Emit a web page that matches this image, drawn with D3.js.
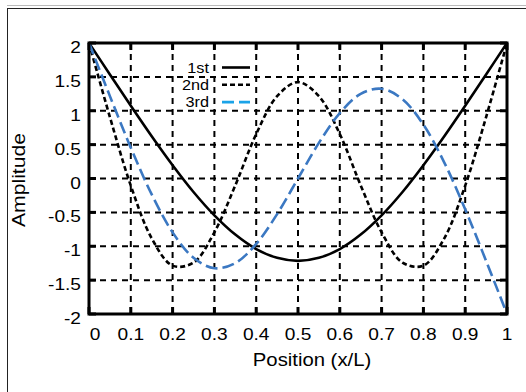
<!DOCTYPE html>
<html>
<head>
<meta charset="utf-8">
<script src="https://cdn.jsdelivr.net/npm/d3@7"></script>
<style>
  body { margin: 0; background: #fff; }
  svg { display: block; font-family: "Liberation Sans", Arial, sans-serif; }
</style>
</head>
<body>
<svg id="chart" width="526" height="392"></svg>
<script>
// positions along the beam
const positions = [0, 0.05, 0.1, 0.15, 0.2, 0.25, 0.3, 0.35, 0.4, 0.45, 0.5,
  0.55, 0.6, 0.65, 0.7, 0.75, 0.8, 0.85, 0.9, 0.95, 1];
const first = [2, 1.536, 1.074, 0.624, 0.196, -0.199, -0.544, -0.828, -1.041, -1.171, -1.216,
  -1.171, -1.041, -0.828, -0.544, -0.199, 0.196, 0.624, 1.074, 1.536, 2];
const second = [2, 0.907, -0.105, -0.883, -1.286, -1.242, -0.794, -0.101, 0.656, 1.215, 1.422,
  1.215, 0.656, -0.101, -0.794, -1.242, -1.286, -0.883, -0.105, 0.907, 2];
const third = [2, 1.216, 0.455, -0.235, -0.795, -1.170, -1.324, -1.249, -0.966, -0.526, 0,
  0.526, 0.966, 1.249, 1.324, 1.170, 0.795, 0.235, -0.455, -1.216, -2];
const xTicks = [0, 0.1, 0.2, 0.3, 0.4, 0.5, 0.6, 0.7, 0.8, 0.9, 1];
const yTicks = [-2, -1.5, -1, -0.5, 0, 0.5, 1, 1.5, 2];
const seriesNames = ["1st", "2nd", "3rd"];

const svg = d3.select("#chart");
const pLeft = 89, pRight = 507, pTop = 43, pBottom = 314;
const stretch = 1.16; // text in the original is a bit wide

function label(px, py, str, size, anchor) {
  return svg.append("text")
    .attr("transform", `translate(${px},${py}) scale(${stretch},1)`)
    .attr("text-anchor", anchor)
    .attr("font-size", size)
    .text(str);
}

// outer frame
svg.append("line").attr("x1", 7).attr("x2", 526).attr("y1", 5.5).attr("y2", 5.5)
  .attr("stroke", "#bbb").attr("stroke-width", 1);
svg.append("rect").attr("x", 7.5).attr("y", 8.5).attr("width", 540).attr("height", 400)
  .attr("fill", "none").attr("stroke", "#222").attr("stroke-width", 1);

const x = d3.scaleLinear().domain([0, 1]).range([pLeft, pRight]);
const y = d3.scaleLinear().domain([-2, 2]).range([pBottom, pTop]);

// grid
const grid = svg.append("g");
grid.selectAll(".gx").data(xTicks.slice(1, -1)).enter().append("line")
  .attr("x1", d => x(d)).attr("x2", d => x(d)).attr("y1", pTop).attr("y2", pBottom)
  .attr("stroke", "#000").attr("stroke-width", 2).attr("stroke-dasharray", "6,5");
grid.selectAll(".gy").data(yTicks.slice(1, -1)).enter().append("line")
  .attr("x1", pLeft).attr("x2", pRight).attr("y1", d => y(d)).attr("y2", d => y(d))
  .attr("stroke", "#000").attr("stroke-width", 2).attr("stroke-dasharray", "6,5");

// inward ticks on all four sides
const tickLen = 7;
const ticks = svg.append("g").attr("stroke", "#000").attr("stroke-width", 3);
xTicks.forEach(t => {
  ticks.append("line").attr("x1", x(t)).attr("x2", x(t)).attr("y1", pBottom).attr("y2", pBottom - tickLen);
  ticks.append("line").attr("x1", x(t)).attr("x2", x(t)).attr("y1", pTop).attr("y2", pTop + tickLen);
});
yTicks.forEach(t => {
  ticks.append("line").attr("x1", pLeft).attr("x2", pLeft + tickLen).attr("y1", y(t)).attr("y2", y(t));
  ticks.append("line").attr("x1", pRight).attr("x2", pRight - tickLen).attr("y1", y(t)).attr("y2", y(t));
});

// curves
const line = d3.line()
  .x((d, i) => x(positions[i]))
  .y(d => y(d))
  .curve(d3.curveCatmullRom.alpha(0.5));

svg.append("path").datum(first).attr("d", line)
  .attr("fill", "none").attr("stroke", "#000").attr("stroke-width", 2.6);
svg.append("path").datum(second).attr("d", line)
  .attr("fill", "none").attr("stroke", "#000").attr("stroke-width", 2.6)
  .attr("stroke-dasharray", "5,3");
svg.append("path").datum(third).attr("d", line)
  .attr("fill", "none").attr("stroke", "#3b78c2").attr("stroke-width", 2.6)
  .attr("stroke-dasharray", "12,5");

// plot border
svg.append("rect").attr("x", pLeft).attr("y", pTop)
  .attr("width", pRight - pLeft).attr("height", pBottom - pTop)
  .attr("fill", "none").attr("stroke", "#000").attr("stroke-width", 3);

// tick labels
xTicks.forEach((d, i) => label(x(d) + (i === 0 ? 6 : 0), 340, d, 16.5, "middle"));
yTicks.forEach(d => label(81, y(d) + 10, d, 16.5, "end"));

// axis titles
label(312, 366, "Position (x/L)", 17.5, "middle");
svg.append("text").attr("transform", "translate(25,180) rotate(-90)")
  .attr("text-anchor", "middle").attr("font-size", 17.5)
  .attr("textLength", 94).attr("lengthAdjust", "spacingAndGlyphs")
  .text("Amplitude");

// legend
const legendStyles = [
  { stroke: "#000", dash: null },
  { stroke: "#000", dash: "5,3" },
  { stroke: "#1aa3e8", dash: "12,5" }
];
seriesNames.forEach((name, i) => {
  const ly = 67.5 + i * 17.3;
  label(209, ly + 5, name, 14, "end");
  svg.append("line").attr("x1", 222).attr("x2", 250).attr("y1", ly).attr("y2", ly)
    .attr("stroke", legendStyles[i].stroke).attr("stroke-width", 2.6)
    .attr("stroke-dasharray", legendStyles[i].dash);
});
</script>
</body>
</html>
